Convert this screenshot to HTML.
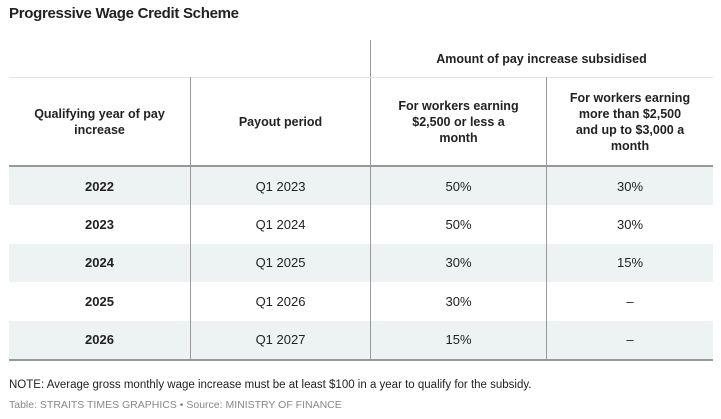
<!DOCTYPE html>
<html><head><meta charset="utf-8"><style>
body{margin:0;width:721px;height:419px;background:#fff;font-family:"Liberation Sans",sans-serif;color:#222;position:relative;overflow:hidden}
.a{position:absolute}
.t{position:absolute;display:flex;align-items:center;justify-content:center;text-align:center}
.b{font-weight:bold}
</style></head><body>
<div class="a b" style="left:9px;top:5px;font-size:15px;letter-spacing:-0.3px">Progressive Wage Credit Scheme</div>
<div class="a" style="left:370px;top:40px;width:1px;height:321px;background:#9a9a9a"></div>
<div class="t b" style="left:370px;top:40px;width:343px;height:37px;font-size:12.5px">Amount of pay increase subsidised</div>
<div class="a" style="left:9px;top:77px;width:704px;height:1px;background:#e4e4e4"></div>
<div class="a" style="left:190px;top:77px;width:1px;height:284px;background:#9a9a9a"></div>
<div class="a" style="left:546px;top:77px;width:1px;height:284px;background:#9a9a9a"></div>
<div class="t b" style="left:9px;top:77px;width:181px;height:89px;font-size:12.5px;line-height:16px">Qualifying year of pay<br>increase</div>
<div class="t b" style="left:191px;top:77px;width:179px;height:89px;font-size:12.5px">Payout period</div>
<div class="t b" style="left:371px;top:77px;width:175px;height:89px;font-size:12.5px;line-height:16px">For workers earning<br>$2,500 or less a<br>month</div>
<div class="t b" style="left:547px;top:77px;width:166px;height:89px;font-size:12.5px;line-height:16px">For workers earning<br>more than $2,500<br>and up to $3,000 a<br>month</div>
<div class="a" style="left:9px;top:165px;width:704px;height:2px;background:#999"></div>
<div id="rows"></div>
<div class="a" style="left:9px;top:359px;width:704px;height:2px;background:#999"></div>
<div class="a" style="left:9px;top:379px;font-size:11.5px;color:#222">NOTE: Average gross monthly wage increase must be at least $100 in a year to qualify for the subsidy.</div>
<div class="a" style="left:9px;top:399px;font-size:10.5px;color:#888">Table: STRAITS TIMES GRAPHICS • Source: MINISTRY OF FINANCE</div>
<script>
const years=["2022","2023","2024","2025","2026"];
const payouts=["Q1 2023","Q1 2024","Q1 2025","Q1 2026","Q1 2027"];
const lowWage=["50%","50%","30%","30%","15%"];
const midWage=["30%","30%","15%","–","–"];
const root=document.getElementById('rows');
const cols=[[9,181],[191,179],[371,175],[547,166]];
const top0=167,rh=38.4;
years.forEach((y,i)=>{
  const top=top0+i*rh;
  if(i%2==0){
    const bg=document.createElement('div');
    
    
    bg.className='a';
    bg.style.cssText=`left:9px;top:${top}px;width:704px;height:${rh}px;background:#edf2f2;z-index:-1`;
    root.appendChild(bg);
  }
  const vals=[y,payouts[i],lowWage[i],midWage[i]];
  vals.forEach((v,j)=>{
    const c=document.createElement('div');
    
    
    c.className='t'+(j==0?' b':'');
    c.style.cssText=`left:${cols[j][0]}px;top:${top}px;width:${cols[j][1]}px;height:${rh}px;font-size:13px`;
    c.textContent=v;
    root.appendChild(c);
  });
});
</script>
</body></html>
